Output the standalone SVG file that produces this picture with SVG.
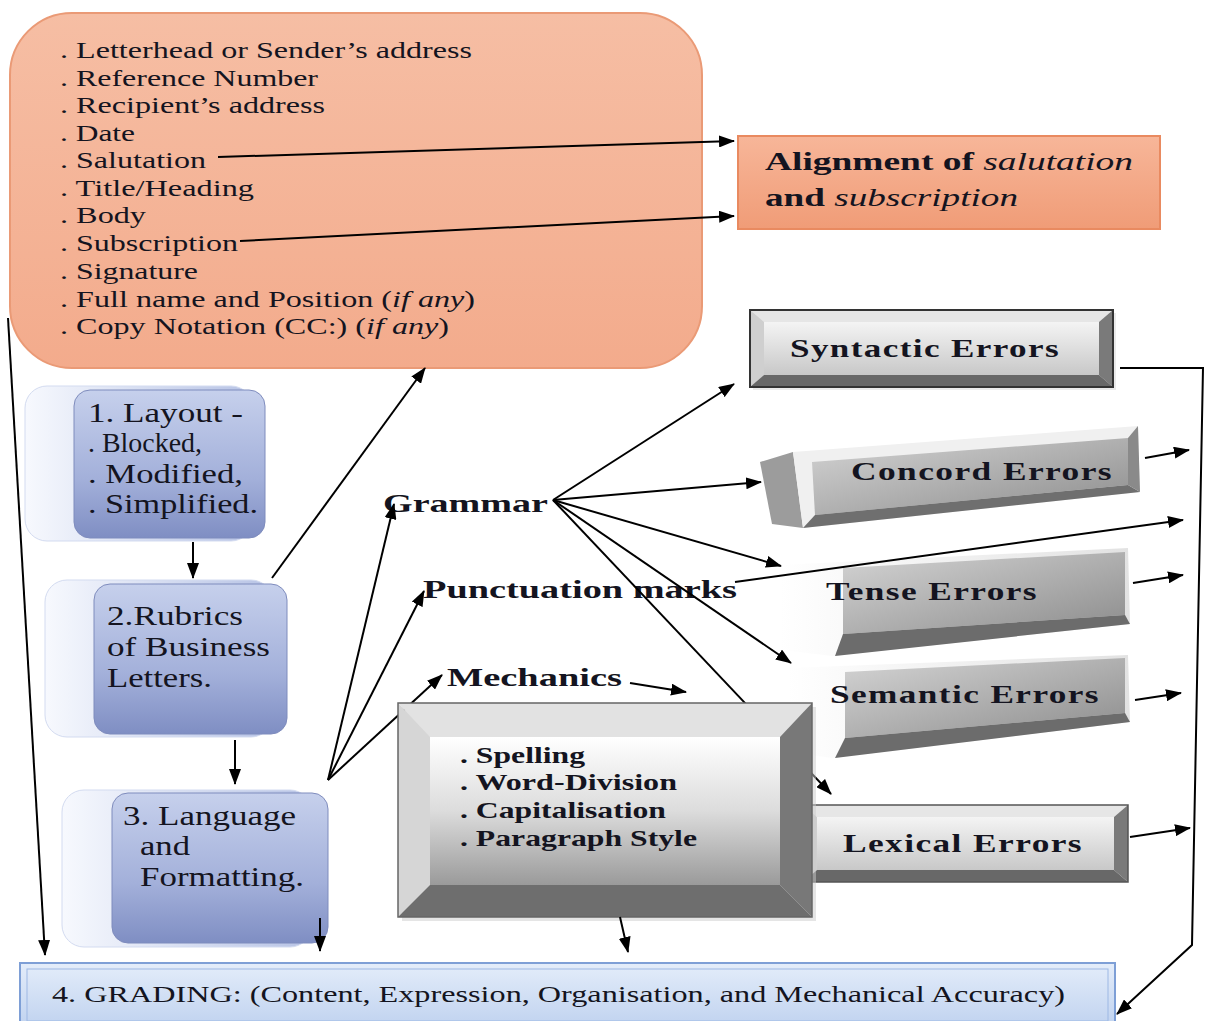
<svg xmlns="http://www.w3.org/2000/svg" width="1206" height="1021" viewBox="0 0 1206 1021">
<defs>
<style>
text{font-family:"Liberation Serif","Times New Roman",serif;fill:#141420}
.lt{font-size:24px}
.nd{font-size:27px}
.er{font-size:25px;font-weight:bold;letter-spacing:1px}
.mc{font-size:23px;font-weight:bold}
.lb{font-size:26px;font-weight:bold}
.cn{fill:none;stroke:#000;stroke-width:2}
.ar{marker-end:url(#ah)}
.bv1{fill:#e6e6e6}.bv2{fill:#cfcfcf}.bv3{fill:#7a7a7a}.bv4{fill:#686868}
</style>
<marker id="ah" markerWidth="16" markerHeight="12" refX="15" refY="6" orient="auto" markerUnits="userSpaceOnUse">
<path d="M0,0 L16,6 L0,12 Z" fill="#000"/>
</marker>
<linearGradient id="salmon" x1="0" y1="0" x2="0" y2="1"><stop offset="0" stop-color="#f6bea4"/><stop offset="1" stop-color="#f3ab8c"/></linearGradient>
<linearGradient id="align" x1="0" y1="0" x2="0" y2="1"><stop offset="0" stop-color="#f7b699"/><stop offset="1" stop-color="#f09c77"/></linearGradient>
<linearGradient id="blueBack" x1="0" y1="0" x2="1" y2="0"><stop offset="0" stop-color="#f7f9fe"/><stop offset="1" stop-color="#b7c3e5"/></linearGradient>
<linearGradient id="blueFront" x1="0" y1="0" x2="0" y2="1"><stop offset="0" stop-color="#c6d0ec"/><stop offset="0.6" stop-color="#a3b0da"/><stop offset="1" stop-color="#7f8ec3"/></linearGradient>
<linearGradient id="grayFace" x1="0" y1="0" x2="0" y2="1"><stop offset="0" stop-color="#f4f4f4"/><stop offset="1" stop-color="#c8c8c8"/></linearGradient>
<linearGradient id="mechFace" x1="0" y1="0" x2="0" y2="1"><stop offset="0" stop-color="#ffffff"/><stop offset="0.5" stop-color="#dcdcdc"/><stop offset="1" stop-color="#9a9a9a"/></linearGradient>
<linearGradient id="blockFace" x1="0" y1="0" x2="1" y2="1"><stop offset="0" stop-color="#d4d4d4"/><stop offset="1" stop-color="#8c8c8c"/></linearGradient>
<linearGradient id="blockBack" x1="0" y1="0" x2="1" y2="0"><stop offset="0" stop-color="#ffffff"/><stop offset="1" stop-color="#e2e2e2"/></linearGradient>
<linearGradient id="gradeFill" x1="0" y1="0" x2="0" y2="1"><stop offset="0" stop-color="#e4edfa"/><stop offset="1" stop-color="#c2d4f0"/></linearGradient>
</defs>
<rect width="1206" height="1021" fill="#fff"/>

<g id="letter-parts">
<rect x="10" y="13" width="692" height="355" rx="62" fill="url(#salmon)" stroke="#ea9a76" stroke-width="2"/>
<text class="lt" x="60" y="58" textLength="412" lengthAdjust="spacingAndGlyphs">. Letterhead or Sender’s address</text>
<text class="lt" x="60" y="86" textLength="258" lengthAdjust="spacingAndGlyphs">. Reference Number</text>
<text class="lt" x="60" y="113" textLength="265" lengthAdjust="spacingAndGlyphs">. Recipient’s address</text>
<text class="lt" x="60" y="141" textLength="75" lengthAdjust="spacingAndGlyphs">. Date</text>
<text class="lt" x="60" y="168" textLength="146" lengthAdjust="spacingAndGlyphs">. Salutation</text>
<text class="lt" x="60" y="196" textLength="194" lengthAdjust="spacingAndGlyphs">. Title/Heading</text>
<text class="lt" x="60" y="223" textLength="86" lengthAdjust="spacingAndGlyphs">. Body</text>
<text class="lt" x="60" y="251" textLength="178" lengthAdjust="spacingAndGlyphs">. Subscription</text>
<text class="lt" x="60" y="279" textLength="138" lengthAdjust="spacingAndGlyphs">. Signature</text>
<text class="lt" x="60" y="307" textLength="415" lengthAdjust="spacingAndGlyphs">. Full name and Position (<tspan font-style="italic">if any</tspan>)</text>
<text class="lt" x="60" y="334" textLength="389" lengthAdjust="spacingAndGlyphs">. Copy Notation (CC:) (<tspan font-style="italic">if any</tspan>)</text>
</g>

<g id="alignment">
<rect x="738" y="136" width="422" height="93" fill="url(#align)" stroke="#e98a60" stroke-width="2"/>
<text class="lb" x="765" y="170" textLength="368" lengthAdjust="spacingAndGlyphs">Alignment of <tspan font-style="italic" font-weight="normal">salutation</tspan></text>
<text class="lb" x="765" y="206" textLength="253" lengthAdjust="spacingAndGlyphs">and <tspan font-style="italic" font-weight="normal">subscription</tspan></text>
</g>

<g id="node1">
<rect x="25" y="386" width="228" height="155" rx="22" fill="url(#blueBack)" stroke="#d3dbf0" stroke-width="1"/>
<rect x="74" y="390" width="191" height="148" rx="16" fill="url(#blueFront)" stroke="#7f8cbd" stroke-width="1"/>
<text class="nd" x="88" y="422" textLength="155" lengthAdjust="spacingAndGlyphs">1. Layout -</text>
<text class="nd" x="88" y="452" textLength="114" lengthAdjust="spacingAndGlyphs">. Blocked,</text>
<text class="nd" x="88" y="483" textLength="155" lengthAdjust="spacingAndGlyphs">. Modified,</text>
<text class="nd" x="88" y="513" textLength="170" lengthAdjust="spacingAndGlyphs">. Simplified.</text>
</g>

<g id="node2">
<rect x="45" y="580" width="228" height="157" rx="22" fill="url(#blueBack)" stroke="#d3dbf0" stroke-width="1"/>
<rect x="94" y="584" width="193" height="150" rx="16" fill="url(#blueFront)" stroke="#7f8cbd" stroke-width="1"/>
<text class="nd" x="107" y="625" textLength="136" lengthAdjust="spacingAndGlyphs">2.Rubrics</text>
<text class="nd" x="107" y="656" textLength="163" lengthAdjust="spacingAndGlyphs">of Business</text>
<text class="nd" x="107" y="687" textLength="105" lengthAdjust="spacingAndGlyphs">Letters.</text>
</g>

<g id="node3">
<rect x="62" y="790" width="250" height="157" rx="22" fill="url(#blueBack)" stroke="#d3dbf0" stroke-width="1"/>
<rect x="112" y="793" width="216" height="150" rx="16" fill="url(#blueFront)" stroke="#7f8cbd" stroke-width="1"/>
<text class="nd" x="123" y="825" textLength="173" lengthAdjust="spacingAndGlyphs">3. Language</text>
<text class="nd" x="140" y="855" textLength="50" lengthAdjust="spacingAndGlyphs">and</text>
<text class="nd" x="140" y="886" textLength="164" lengthAdjust="spacingAndGlyphs">Formatting.</text>
</g>

<g id="syntactic">
<rect x="753" y="313" width="363" height="77" fill="#ddd" opacity="0.6"/>
<polygon class="bv1" points="750,310 1113,310 1099,322 764,322"/>
<polygon class="bv2" points="750,310 764,322 764,375 750,387"/>
<polygon class="bv3" points="1113,310 1113,387 1099,375 1099,322"/>
<polygon class="bv4" points="750,387 764,375 1099,375 1113,387"/>
<rect x="764" y="322" width="335" height="53" fill="url(#grayFace)"/>
<rect x="750" y="310" width="363" height="77" fill="none" stroke="#333" stroke-width="2"/>
<text class="er" x="790" y="357" textLength="270" lengthAdjust="spacingAndGlyphs">Syntactic Errors</text>
</g>

<g id="concord">
<polygon points="760,462 793,452 803,528 772,524" fill="#9c9c9c"/>
<polygon points="793,452 1138,426 1140,492 803,528" fill="#f0f0f0"/>
<polygon points="812,462 1128,438 1128,485 815,515" fill="url(#blockFace)"/>
<polygon points="815,515 1128,485 1140,492 803,528" fill="#6f6f6f"/>
<polygon points="1128,438 1138,426 1140,492 1128,485" fill="#8a8a8a"/>
<text class="er" x="851" y="480" textLength="262" lengthAdjust="spacingAndGlyphs">Concord Errors</text>
</g>

<g id="tense">
<polygon points="780,565 1128,548 1130,624 832,656 782,650" fill="url(#blockBack)"/>
<polygon points="843,568 1125,552 1125,615 843,634" fill="url(#blockFace)"/>
<polygon points="843,634 1125,615 1130,624 835,656" fill="#6c6c6c"/>
<text class="er" x="826" y="600" textLength="212" lengthAdjust="spacingAndGlyphs">Tense Errors</text>
</g>

<g id="semantic">
<polygon points="788,668 1128,655 1130,722 832,758 790,752" fill="url(#blockBack)"/>
<polygon points="845,672 1125,658 1125,713 845,738" fill="url(#blockFace)"/>
<polygon points="845,738 1125,713 1130,722 835,758" fill="#6c6c6c"/>
<text class="er" x="830" y="703" textLength="270" lengthAdjust="spacingAndGlyphs">Semantic Errors</text>
</g>

<g id="lexical">
<polygon class="bv1" points="803,805 1128,805 1114,817 817,817"/>
<polygon class="bv2" points="803,805 817,817 817,870 803,882"/>
<polygon class="bv3" points="1128,805 1128,882 1114,870 1114,817"/>
<polygon class="bv4" points="803,882 817,870 1114,870 1128,882"/>
<rect x="817" y="817" width="297" height="53" fill="url(#grayFace)"/>
<rect x="803" y="805" width="325" height="77" fill="none" stroke="#555" stroke-width="1.5"/>
<text class="er" x="843" y="852" textLength="240" lengthAdjust="spacingAndGlyphs">Lexical Errors</text>
</g>

<g id="grammar">
<text class="lb" x="383" y="512" textLength="165" lengthAdjust="spacingAndGlyphs">Grammar</text>
</g>
<g id="punctuation">
<text class="lb" x="423" y="598" textLength="314" lengthAdjust="spacingAndGlyphs">Punctuation marks</text>
</g>
<g id="mechanics">
<text class="lb" x="447" y="686" textLength="175" lengthAdjust="spacingAndGlyphs">Mechanics</text>
</g>

<g id="connectors">
<path class="cn ar" d="M218,157 L734,141"/>
<path class="cn ar" d="M240,241 L734,216"/>
<path class="cn ar" d="M8,318 L45,955"/>
<path class="cn ar" d="M193,542 L193,578"/>
<path class="cn ar" d="M235,740 L235,784"/>
<path class="cn ar" d="M272,578 L425,368"/>
<path class="cn ar" d="M328,780 L394,504"/>
<path class="cn ar" d="M328,780 L424,591"/>
<path class="cn ar" d="M328,780 L442,675"/>
<path class="cn ar" d="M320,918 L320,951"/>
<path class="cn ar" d="M630,683 L686,692"/>
<path class="cn ar" d="M553,500 L734,384"/>
<path class="cn ar" d="M553,500 L761,482"/>
<path class="cn ar" d="M553,500 L781,566"/>
<path class="cn ar" d="M553,500 L791,663"/>
<path class="cn ar" d="M553,500 L831,794"/>
<path class="cn ar" d="M735,582 L1183,520"/>
<path class="cn ar" d="M1145,458 L1189,450"/>
<path class="cn ar" d="M1133,583 L1183,575"/>
<path class="cn ar" d="M1135,700 L1181,693"/>
<path class="cn ar" d="M1130,837 L1190,828"/>
<path class="cn ar" d="M1120,368 L1203,368 L1192,945 L1117,1014"/>
</g>

<g id="mechanics-box">
<rect x="402" y="707" width="414" height="214" fill="#ccc" opacity="0.5"/>
<polygon points="398,703 812,703 780,737 430,737" fill="#e2e2e2"/>
<polygon points="398,703 430,737 430,885 398,917" fill="#d6d6d6"/>
<polygon points="812,703 812,917 780,885 780,737" fill="#787878"/>
<polygon points="398,917 430,885 780,885 812,917" fill="#6e6e6e"/>
<rect x="430" y="737" width="350" height="148" fill="url(#mechFace)"/>
<rect x="398" y="703" width="414" height="214" fill="none" stroke="#666" stroke-width="1.5"/>
<text class="mc" x="460" y="763" textLength="125" lengthAdjust="spacingAndGlyphs">. Spelling</text>
<text class="mc" x="460" y="790" textLength="217" lengthAdjust="spacingAndGlyphs">. Word-Division</text>
<text class="mc" x="460" y="818" textLength="206" lengthAdjust="spacingAndGlyphs">. Capitalisation</text>
<text class="mc" x="460" y="846" textLength="237" lengthAdjust="spacingAndGlyphs">. Paragraph Style</text>
</g>
<g id="mech-arrow-down">
<path class="cn ar" d="M620,917 L628,952"/>
</g>

<g id="grading">
<rect x="20" y="963" width="1095" height="60" fill="url(#gradeFill)" stroke="#7e9fd6" stroke-width="2"/>
<rect x="27" y="969" width="1081" height="52" fill="none" stroke="#9db8e4" stroke-width="1"/>
<text x="52" y="1002" font-size="23" textLength="1013" lengthAdjust="spacingAndGlyphs">4. GRADING: (Content, Expression, Organisation, and Mechanical Accuracy)</text>
</g>
</svg>
